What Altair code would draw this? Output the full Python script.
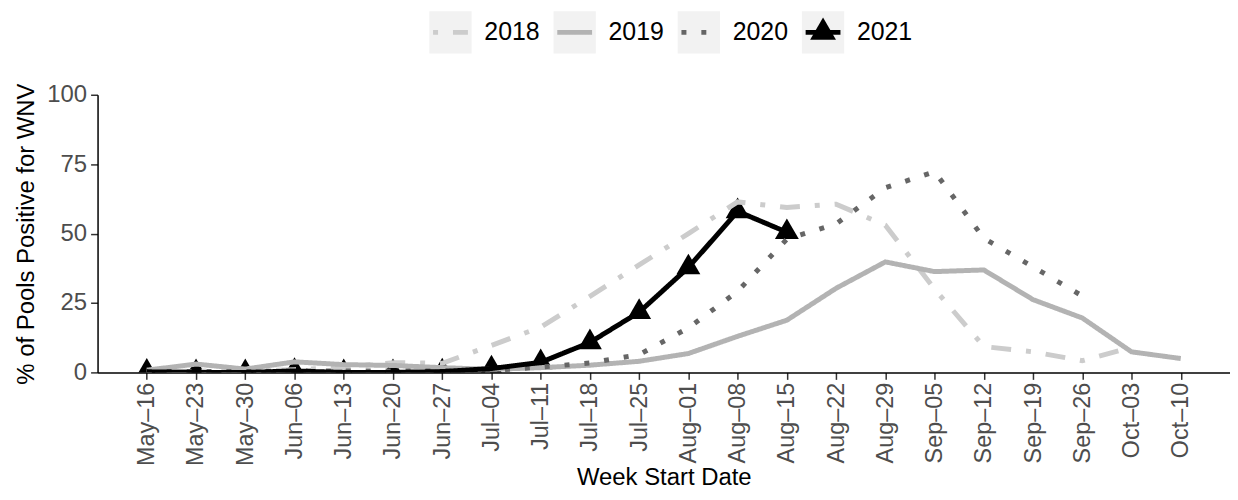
import altair as alt
import pandas as pd

weeks = ["May–16", "May–23", "May–30", "Jun–06", "Jun–13", "Jun–20", "Jun–27",
         "Jul–04", "Jul–11", "Jul–18", "Jul–25", "Aug–01", "Aug–08", "Aug–15",
         "Aug–22", "Aug–29", "Sep–05", "Sep–12", "Sep–19", "Sep–26", "Oct–03", "Oct–10"]
years = ["2018", "2019", "2020", "2021"]

v2018 = [0, 0.5, 0.5, 1, 1.8, 3.5, 3.3, 9.7, 16.3, 27.4, 38.7, 50, 61.4, 59.4,
         60.6, 53, 30, 9.3, 7.4, 4.2, 9, None]
v2019 = [0.8, 3, 1.2, 3.8, 2.8, 2.5, 1.7, 1.1, 1.7, 2.6, 4, 6.8, 13, 18.8,
         30.3, 39.8, 36.3, 36.9, 26.2, 19.6, 7.4, 5.0]
v2020 = [0.3, 0.3, 0.3, 0.5, 0.5, 0.5, 0.5, 0.7, 1.9, 3.4, 6.4, 16, 29.2, 48,
         53.5, 66.5, 72.3, 48.3, 38, 27.5, None, None]
v2021 = [0.2, 0, 0, 0.5, 0, 0, 0.3, 1.4, 3.6, 10.8, 21.7, 37.8, 58, 50.5,
         None, None, None, None, None, None, None, None]

colors = ["#cccccc", "#b3b3b3", "#666666", "#000000"]
dashes = [[5, 15, 20, 15], [1, 0], [5, 15], [1, 0]]

rows = []
for yr, vals in zip(years, [v2018, v2019, v2020, v2021]):
    for w, v in zip(weeks, vals):
        if v is not None:
            rows.append({"week": w, "year": yr, "pct": v})
df = pd.DataFrame(rows)

TRI = "M0,-1.155L1,0.577L-1,0.577Z"
FONT = "Liberation Sans"
LW = 5

x_enc = alt.X("week:O", sort=weeks,
              scale=alt.Scale(type="point", padding=1.05),
              axis=alt.Axis(title="Week Start Date", labelAngle=-90,
                            labelFontSize=23.5, labelPadding=3, titlePadding=0))
y_enc = alt.Y("pct:Q", scale=alt.Scale(domain=[0, 100], nice=False, zero=True),
              axis=alt.Axis(title="% of Pools Positive for WNV",
                            values=[0, 25, 50, 75, 100],
                            labelPadding=4, titlePadding=8))

base = alt.Chart(df).encode(x=x_enc, y=y_enc)

points = base.transform_filter("datum.year == '2021'").mark_point(
    shape=TRI, filled=True, size=576, color="#000000", opacity=1, clip=True)

line_layers = []
for yr, c, d in zip(years, colors, dashes):
    line_layers.append(
        base.transform_filter(f"datum.year == '{yr}'").mark_line(
            color=c, strokeWidth=LW, strokeDash=d, clip=True, strokeCap="butt"))

main = alt.layer(points, *line_layers)

# custom legend (keys with grey background), drawn above the plot area
leg_df = pd.DataFrame({"year": years, "idx": list(range(len(years)))})
lx = alt.X("idx:Q", scale=alt.Scale(domain=[-2.842, 6.277], nice=False, zero=False),
           axis=None)
LEG_Y = -62.7
leg_base = alt.Chart(leg_df).encode(x=lx, y=alt.value(LEG_Y))

leg_box = leg_base.mark_square(size=1806, color="#f2f2f2", opacity=1,
                               filled=True, strokeWidth=0)
leg_line = leg_base.mark_point(shape="M-1,0H1", size=1225, filled=False,
                               strokeWidth=LW, opacity=1).encode(
    color=alt.Color("year:N", scale=alt.Scale(domain=years, range=colors), legend=None),
    strokeDash=alt.StrokeDash("year:N", scale=alt.Scale(domain=years, range=dashes), legend=None),
)
leg_tri = leg_base.transform_filter("datum.year == '2021'").mark_point(
    shape=TRI, filled=True, size=676, color="#000000", opacity=1)
leg_text = leg_base.mark_text(align="left", baseline="middle", dx=34,
                              fontSize=25, color="#000000", font=FONT).encode(
    text="year:N")

legend = alt.layer(leg_box, leg_line, leg_tri, leg_text)

chart = alt.layer(main, legend).resolve_scale(
    x="independent", color="independent", strokeDash="independent"
).properties(
    width=1138, height=279,
    padding={"left": 6, "top": 2, "right": 0, "bottom": 0},
).configure(font=FONT).configure_view(stroke=None).configure_axis(
    grid=False,
    labelFont=FONT, titleFont=FONT,
    labelFontSize=24, labelColor="#4d4d4d",
    titleFontSize=24, titleColor="#000000", titleFontWeight="normal",
    tickSize=7, tickColor="#333333", tickWidth=1.5,
    domainColor="#000000", domainWidth=1.5,
    labelFlush=False, labelOverlap=False, zindex=1,
)

chart.save("out.html", embed_options={"renderer": "svg", "actions": False})
